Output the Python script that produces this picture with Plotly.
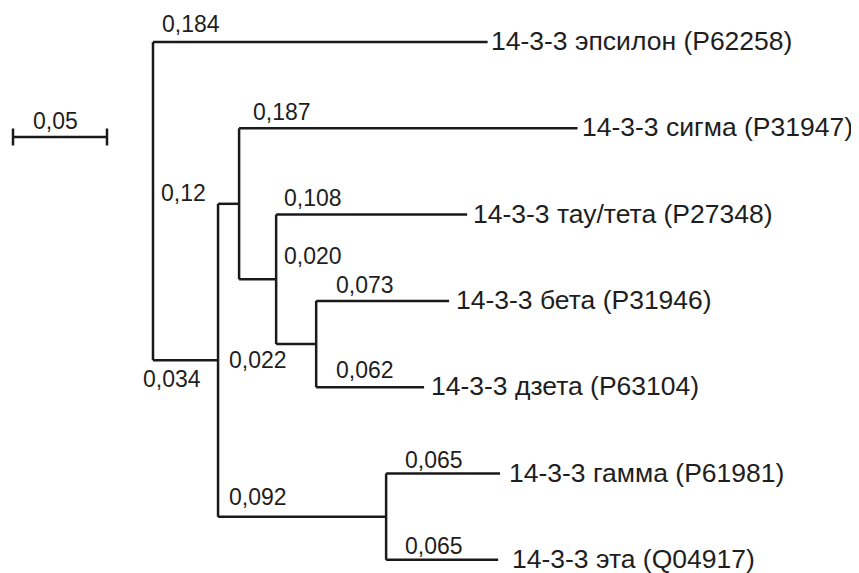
import plotly.graph_objects as go

# ---- data ----
tip_names = [
    "14-3-3 эпсилон (P62258)",
    "14-3-3 сигма (P31947)",
    "14-3-3 тау/тета (P27348)",
    "14-3-3 бета (P31946)",
    "14-3-3 дзета (P63104)",
    "14-3-3 гамма (P61981)",
    "14-3-3 эта (Q04917)",
]
edge_parent = ["R", "R", "A", "B", "B", "C", "C", "D", "D", "A", "E", "E"]
edge_child = ["T0", "A", "B", "T1", "C", "T2", "D", "T3", "T4", "E", "T5", "T6"]
branch_length = [0.178, 0.0346, 0.0112, 0.180, 0.0197, 0.1016, 0.0213,
                 0.0707, 0.0574, 0.0894, 0.0606, 0.0596]
branch_label = ["0,184", "0,034", "0,12", "0,187", "0,020", "0,108", "0,022",
                "0,073", "0,062", "0,092", "0,065", "0,065"]
scale_value = 0.05
scale_label = "0,05"

# ---- layout helpers ----
PAGE_OFF = 8              # browser default body margin
W, H = 859 - PAGE_OFF, 573 - PAGE_OFF
PX_PER_UNIT = 1880.0
ROOT_PX = 153 - PAGE_OFF
TIP_TOP_PX, TIP_STEP_PX = 42 - PAGE_OFF, 86.3

# compute node coordinates
xpos = {"R": 0.0}
children = {}
for p, c in zip(edge_parent, edge_child):
    children.setdefault(p, []).append(c)
order = ["R"]
i = 0
while i < len(order):
    n = order[i]
    for c in children.get(n, []):
        idx = edge_child.index(c)
        xpos[c] = xpos[n] + branch_length[idx]
        order.append(c)
    i += 1
ypos = {f"T{k}": float(k) for k in range(len(tip_names))}
for n in reversed(order):
    if n in children:
        ypos[n] = sum(ypos[c] for c in children[n]) / len(children[n])

lx, ly = [], []
for p, c in zip(edge_parent, edge_child):
    lx += [xpos[p], xpos[c], None]
    ly += [ypos[c], ypos[c], None]
for n, ch in children.items():
    ys = [ypos[c] for c in ch]
    lx += [xpos[n], xpos[n], None]
    ly += [min(ys), max(ys), None]

x0 = -ROOT_PX / PX_PER_UNIT
x1 = (W - ROOT_PX) / PX_PER_UNIT
y_top = -TIP_TOP_PX / TIP_STEP_PX
y_bot = (H - TIP_TOP_PX) / TIP_STEP_PX

LINE = dict(color="#1a1a1a", width=2.5)
FONT = "Liberation Sans, Arial, sans-serif"

fig = go.Figure()
fig.add_trace(go.Scatter(x=lx, y=ly, mode="lines", line=LINE,
                         hoverinfo="skip", showlegend=False))

# scale bar
sb_x0 = (13 - PAGE_OFF - ROOT_PX) / PX_PER_UNIT
sb_y = (137 - PAGE_OFF - TIP_TOP_PX) / TIP_STEP_PX
tick = 8.5 / TIP_STEP_PX
fig.add_trace(go.Scatter(
    x=[sb_x0, sb_x0 + scale_value, None, sb_x0, sb_x0, None,
       sb_x0 + scale_value, sb_x0 + scale_value],
    y=[sb_y, sb_y, None, sb_y - tick, sb_y + tick, None, sb_y - tick, sb_y + tick],
    mode="lines", line=LINE, hoverinfo="skip", showlegend=False))
fig.add_annotation(x=sb_x0 + scale_value / 2, y=sb_y, text=scale_label,
                   showarrow=False, xanchor="center", yanchor="middle",
                   xshift=-5, yshift=16, font=dict(size=23, family=FONT, color="#1e1e1e"))

# branch labels: (xanchor, xshift, yshift) relative to (parent x, child y)
label_offsets = [("left", 7, 17), ("left", -12, -20), ("right", -10, 10),
                 ("left", 12, 15), ("left", 43, 22), ("left", 6, 16),
                 ("left", -49, -17), ("left", 18, 15), ("left", 18, 16),
                 ("left", 9, 19), ("left", 17, 13), ("left", 17, 13)]
for p, c, lab, (xa, xs, ys) in zip(edge_parent, edge_child, branch_label, label_offsets):
    fig.add_annotation(x=xpos[p], y=ypos[c], text=lab, showarrow=False,
                       xanchor=xa, yanchor="middle", xshift=xs, yshift=ys + 1,
                       font=dict(size=23, family=FONT, color="#1e1e1e"))

# tip labels
tip_gap = [1, 2, 4, 5, 5, 7, 12]
for k, name in enumerate(tip_names):
    t = f"T{k}"
    fig.add_annotation(x=xpos[t], y=ypos[t], text=name, showarrow=False,
                       xanchor="left", yanchor="middle", xshift=tip_gap[k], yshift=1,
                       font=dict(size=26.5, family=FONT, color="#1e1e1e"))

fig.update_layout(
    width=W, height=H, margin=dict(l=0, r=0, t=0, b=0),
    paper_bgcolor="white", plot_bgcolor="white",
    xaxis=dict(range=[x0, x1], visible=False, fixedrange=True),
    yaxis=dict(range=[y_bot, y_top], visible=False, fixedrange=True),
)
fig.write_html("out.html")
